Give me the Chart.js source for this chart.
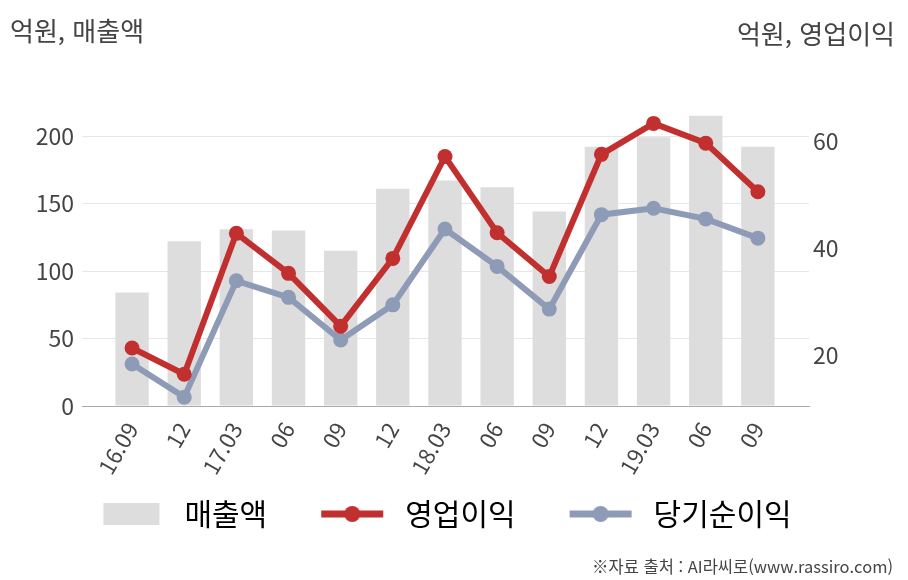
<!DOCTYPE html>
<html lang="ko">
<head>
  <meta charset="UTF-8">
  <title>매출액 / 영업이익 / 당기순이익</title>
  <script src="https://cdn.jsdelivr.net/npm/chart.js"></script>
  <style>
    body {
      margin: 0;
      background: #fff;
      font-family: "Noto Sans CJK KR", sans-serif;
    }
    #wrap {
      position: relative;
      width: 908px;
      height: 580px;
    }
    .note {
      position: absolute;
      line-height: 1;
      color: #444;
      white-space: nowrap;
    }
    #unitL { left: 10px; top: 17px; font-size: 26px; }
    #unitR { right: 13px; top: 20px; font-size: 26px; }
    #src { right: 15px; top: 558px; font-size: 16.5px; }
  </style>
</head>
<body>
  <div id="wrap">
    <canvas id="chart" width="908" height="580"></canvas>
    <div class="note" id="unitL">억원, 매출액</div>
    <div class="note" id="unitR">억원, 영업이익</div>
    <div class="note" id="src">※자료 출처 : AI라씨로(www.rassiro.com)</div>
  </div>

  <script>
    // quarters
    const labels = ['16.09', '12', '17.03', '06', '09', '12', '18.03', '06', '09', '12', '19.03', '06', '09'];
    // 매출액 (left axis)
    const sales = [84, 122, 131, 130, 115, 161, 167, 162, 144, 192, 199, 215, 192];
    // 영업이익 / 당기순이익 (right axis)
    const opProfit = [21.3, 16.4, 42.8, 35.3, 25.4, 38.1, 57.2, 42.9, 34.7, 57.6, 63.4, 59.7, 50.6];
    const netProfit = [18.3, 12.1, 33.9, 30.8, 22.8, 29.4, 43.6, 36.6, 28.6, 46.3, 47.5, 45.5, 41.9];

    const BAR = '#dddddd';
    const RED = '#c1302f';
    const BLUE = '#8e9bb7';
    const FONT = '"Noto Sans CJK KR", "Noto Sans", sans-serif';

    const toPoints = arr => arr.map((v, i) => ({ x: i, y: v }));

    // little images for the legend (box / line with dot)
    function legendIcon(kind, color) {
      const c = document.createElement('canvas');
      c.width = 113;
      c.height = 30;
      const g = c.getContext('2d');
      const cx = 75;
      if (kind === 'bar') {
        g.fillStyle = color;
        g.fillRect(cx - 28, 4, 56, 22);
      } else {
        g.strokeStyle = color;
        g.lineWidth = 7;
        g.beginPath();
        g.moveTo(cx - 31, 15);
        g.lineTo(cx + 31, 15);
        g.stroke();
        g.fillStyle = color;
        g.beginPath();
        g.arc(cx, 15, 8, 0, Math.PI * 2);
        g.fill();
      }
      return c;
    }

    const legendItems = [
      { text: '매출액', pointStyle: legendIcon('bar', BAR), datasetIndex: 0 },
      { text: '영업이익', pointStyle: legendIcon('line', RED), datasetIndex: 1 },
      { text: '당기순이익', pointStyle: legendIcon('line', BLUE), datasetIndex: 2 }
    ];

    new Chart(document.getElementById('chart'), {
      type: 'bar',
      data: {
        datasets: [
          {
            label: '매출액',
            data: toPoints(sales),
            backgroundColor: BAR,
            yAxisID: 'y',
            categoryPercentage: 1,
            barPercentage: 0.64,
            order: 2
          },
          {
            type: 'line',
            label: '영업이익',
            data: toPoints(opProfit),
            borderColor: RED,
            backgroundColor: RED,
            borderWidth: 6,
            pointRadius: 7.5,
            pointBorderWidth: 0,
            pointBackgroundColor: RED,
            tension: 0,
            yAxisID: 'y1',
            order: 0
          },
          {
            type: 'line',
            label: '당기순이익',
            data: toPoints(netProfit),
            borderColor: BLUE,
            backgroundColor: BLUE,
            borderWidth: 6,
            pointRadius: 7.5,
            pointBorderWidth: 0,
            pointBackgroundColor: BLUE,
            tension: 0,
            yAxisID: 'y1',
            order: 1
          }
        ]
      },
      options: {
        responsive: false,
        animation: false,
        layout: { padding: { top: 109, bottom: 41, left: 0, right: 60 } },
        plugins: {
          tooltip: { enabled: false },
          legend: {
            position: 'bottom',
            labels: {
              usePointStyle: true,
              pointStyleWidth: 113,
              padding: 10,
              color: '#333',
              font: { family: FONT, size: 30 },
              generateLabels: () => legendItems.map(it => ({
                text: it.text,
                pointStyle: it.pointStyle,
                datasetIndex: it.datasetIndex,
                fillStyle: 'rgba(0,0,0,0)',
                strokeStyle: 'rgba(0,0,0,0)',
                lineWidth: 0,
                hidden: false
              }))
            }
          }
        },
        scales: {
          x: {
            type: 'linear',
            offset: false,
            min: -0.96,
            max: 12.98,
            afterFit: s => { s.height = 83; },
            grid: { display: false },
            border: { display: true, color: '#aaaaaa', width: 1 },
            ticks: {
              stepSize: 1,
              includeBounds: false,
              autoSkip: false,
              minRotation: 60,
              maxRotation: 60,
              padding: 4,
              color: '#444',
              font: { family: FONT, size: 22 },
              callback: v => labels[v] ?? ''
            }
          },
          y: {
            position: 'left',
            min: 0,
            max: 220,
            afterFit: s => { s.width = 82; },
            grid: { color: '#e6e6e6', drawTicks: false },
            border: { display: false },
            ticks: {
              stepSize: 50,
              includeBounds: false,
              padding: 8,
              color: '#444',
              font: { family: FONT, size: 23 }
            }
          },
          y1: {
            position: 'right',
            min: 10.44,
            max: 66.1,
            afterFit: s => { s.width = 39; },
            grid: { display: false, drawTicks: false },
            border: { display: false },
            ticks: {
              stepSize: 20,
              includeBounds: false,
              padding: 4,
              color: '#444',
              font: { family: FONT, size: 23 }
            }
          }
        }
      }
    });
  </script>
</body>
</html>
